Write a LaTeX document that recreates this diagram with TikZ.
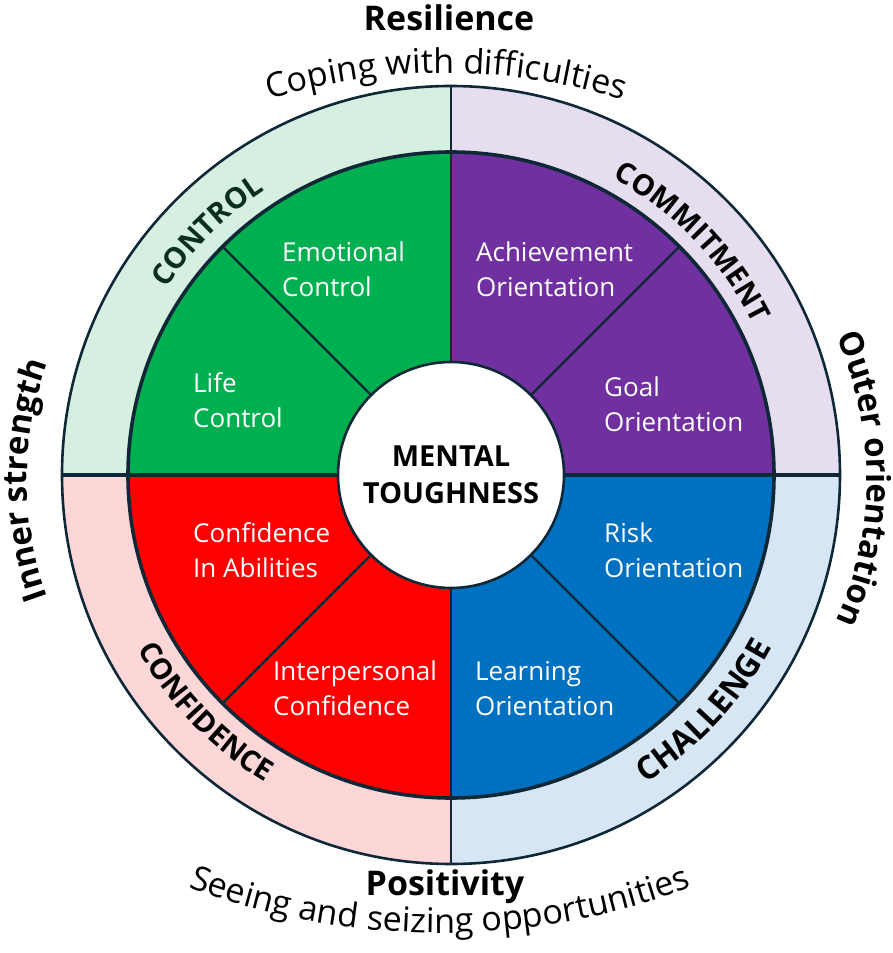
\documentclass[tikz,border=0pt]{standalone}
\usepackage{fontspec}
\setmainfont{Open Sans}
\usepackage{tikz}
\usetikzlibrary{decorations.text}

\definecolor{edge}{HTML}{0E2837}
\definecolor{ctrldark}{HTML}{00B050}
\definecolor{ctrllite}{HTML}{D5EFE0}
\definecolor{ctrlink}{HTML}{0B2F1E}
\definecolor{commitdark}{HTML}{7030A0}
\definecolor{commitlite}{HTML}{E6DDEF}
\definecolor{confdark}{HTML}{FF0000}
\definecolor{conflite}{HTML}{FDD7D7}
\definecolor{chaldark}{HTML}{0070C0}
\definecolor{challite}{HTML}{D6E6F4}

\newcommand\facetfont{\fontsize{26}{35}\selectfont}
\newcommand\hubfont{\bfseries\fontsize{29}{37}\selectfont}
\newcommand\ringfont{\bfseries\fontsize{29}{29}\selectfont}
\newcommand\sidefont{\bfseries\fontsize{33}{33}\selectfont}
\newcommand\headfont{\bfseries\fontsize{34}{34}\selectfont}
\newcommand\subfont{\fontsize{34}{34}\selectfont}

\tikzstyle{rim} = [draw=edge, line width=2.6pt]
\tikzstyle{spoke} = [draw=edge, line width=2.4pt]
\tikzstyle{facet} = [text=white, anchor=west, align=left, inner sep=0pt, font=\facetfont]
\tikzstyle{hub} = [circle, draw=edge, line width=2.6pt, fill=white, minimum size=226pt, align=center, font=\hubfont]
\tikzstyle{arched} = [decorate]

\begin{document}
\begin{tikzpicture}[x=1pt,y=1pt]
\useasboundingbox (-451,-478) rectangle (442,475);

%quadrants: light outer ring, dark inner pie
\foreach \a/\lite/\dark in {0/commitlite/commitdark,90/ctrllite/ctrldark,180/conflite/confdark,270/challite/chaldark}
{
\fill[\lite] (0,0) -- (\a:389) arc[start angle=\a, end angle=\a+90, radius=389] -- cycle;
\fill[\dark] (0,0) -- (\a:323) arc[start angle=\a, end angle=\a+90, radius=323] -- cycle;
}

%borders
\draw[rim] (0,0) circle (389);
\draw[rim, line width=3.6pt] (0,0) circle (323);
\draw[spoke] (90:389) -- (270:389);
\draw[rim, line width=3.4pt] (180:389) -- (0:389);

\node[hub] (hub) at (0,0) {MENTAL\\TOUGHNESS};

\foreach \a in {45,135,225,315}
{
\draw[spoke] (hub.\a) -- (\a:323);
}

%sector labels
\node[facet] (emo) at (-169,205.5) {Emotional\\Control};
\node[facet] (life) at (-258,74.5) {Life\\Control};
\node[facet] (achieve) at (25,205.5) {Achievement\\Orientation};
\node[facet] (goal) at (153,71) {Goal\\Orientation};
\node[facet] (abil) at (-258,-75.5) {Confidence\\In Abilities};
\node[facet] (inter) at (-178,-213.5) {Interpersonal\\Confidence};
\node[facet] (risk) at (153,-75.5) {Risk\\Orientation};
\node[facet] (learn) at (24,-213.5) {Learning\\Orientation};

%ring labels along the arcs
\path[arched, decoration={text along path, text align=center, text={|\ringfont\color{ctrlink}|CONTROL}}] (165:340) arc[start angle=165, end angle=105, radius=340];
\path[arched, decoration={text along path, text align=center, text={|\ringfont|COMMITMENT}}] (80:338) arc[start angle=80, end angle=8, radius=338];
\path[arched, decoration={text along path, text align=center, text={|\ringfont|CONFIDENCE}}] (189:359) arc[start angle=189, end angle=259, radius=359];
\path[arched, decoration={text along path, text align=center, text={|\bfseries\fontsize{32}{32}\selectfont|CHALLENGE}}] (282:364) arc[start angle=282, end angle=352, radius=364];

%headings
\node[font=\headfont] (resil) at (-2,457) {Resilience};
\node[font=\headfont] (posit) at (-6,-412) {Positivity};

%curved captions
\path[arched, shift={(-5,-198)}, decoration={text along path, text align=center, text={|\subfont|Coping with difficulties}}] (120:600) arc[start angle=120, end angle=60, radius=600];
\path[arched, shift={(-11,260)}, decoration={text along path, text align=center, text={|\subfont|Seeing and seizing opportunities}}] (240:718) arc[start angle=240, end angle=300, radius=718];
\path[arched, shift={(-84,-5)}, decoration={text along path, text align=center, text={|\sidefont|Inner strength}}] (210:340) arc[start angle=210, end angle=150, radius=340];
\path[arched, shift={(76,-4)}, decoration={text along path, text align=center, text={|\sidefont|Outer orientation}}] (30:340) arc[start angle=30, end angle=-30, radius=340];

\end{tikzpicture}
\end{document}
